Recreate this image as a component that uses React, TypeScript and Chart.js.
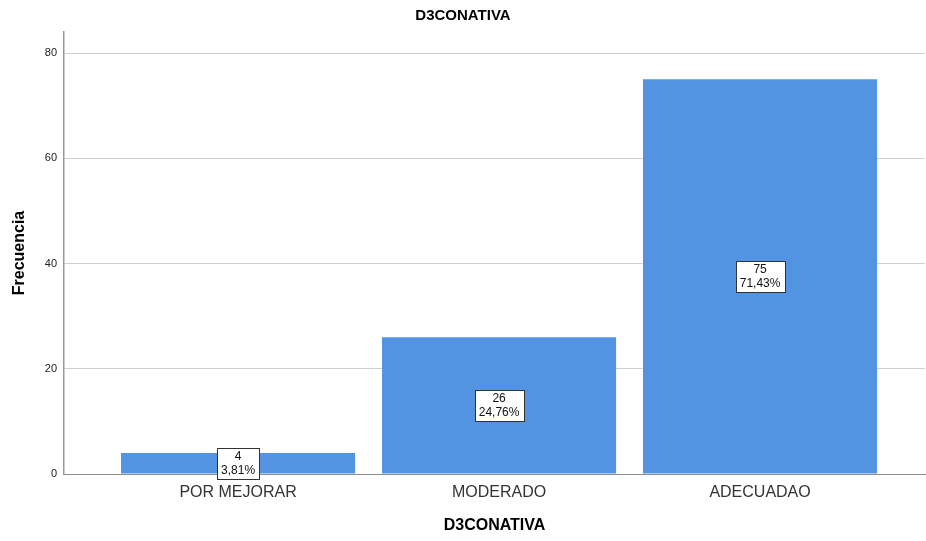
import React, { useEffect, useRef } from "react";
import { Chart, registerables } from "chart.js";

Chart.register(...registerables);

const chartTitle = "D3CONATIVA";
const xAxisTitle = "D3CONATIVA";
const yAxisTitle = "Frecuencia";
const categories = ["POR MEJORAR", "MODERADO", "ADECUADAO"];
const frequencies = [4, 26, 75];
const percentLabels = ["3,81%", "24,76%", "71,43%"];
const yTicks = [0, 20, 40, 60, 80];

const FONT = "'Liberation Sans', Arial, sans-serif";

const textPlugin = {
  id: "textPlugin",
  afterDraw(chart: any) {
    const ctx = chart.ctx;
    const area = chart.chartArea;
    ctx.save();
    ctx.fillStyle = "#000";
    ctx.textAlign = "center";
    ctx.textBaseline = "middle";
    ctx.font = `bold 15px ${FONT}`;
    ctx.fillText(chartTitle, chart.width / 2, 16);
    ctx.font = `bold 16px ${FONT}`;
    ctx.fillText(xAxisTitle, (area.left + area.right) / 2, 526);
    ctx.translate(20, (area.top + area.bottom) / 2);
    ctx.rotate(-Math.PI / 2);
    ctx.fillText(yAxisTitle, 0, 0);
    ctx.restore();
  },
  afterDatasetsDraw(chart: any) {
    const ctx = chart.ctx;
    const meta = chart.getDatasetMeta(0);
    ctx.save();
    ctx.font = `12px ${FONT}`;
    meta.data.forEach((bar: any, i: number) => {
      const cx = bar.x;
      const cy = (bar.y + bar.base) / 2;
      const l1 = String(frequencies[i]);
      const l2 = percentLabels[i];
      const w = Math.max(ctx.measureText(l1).width, ctx.measureText(l2).width) + 8;
      const h = 31;
      const x0 = Math.round(cx - w / 2) + 0.5;
      const y0 = Math.round(cy - h / 2) + 0.5;
      ctx.fillStyle = "#ffffff";
      ctx.fillRect(x0, y0, Math.round(w), h);
      ctx.strokeStyle = "#333333";
      ctx.lineWidth = 1;
      ctx.strokeRect(x0, y0, Math.round(w), h);
      ctx.fillStyle = "#111";
      ctx.textAlign = "center";
      ctx.textBaseline = "middle";
      ctx.fillText(l1, cx, cy - 7);
      ctx.fillText(l2, cx, cy + 7);
    });
    ctx.restore();
  },
};

export default function App() {
  const ref = useRef<HTMLCanvasElement>(null);
  useEffect(() => {
    if (!ref.current) return;
    const chart = new Chart(ref.current, {
      type: "bar",
      data: {
        datasets: [
          {
            data: frequencies.map((v, i) => ({ x: i, y: v })),
            backgroundColor: "#5294e2",
            borderWidth: 0,
            categoryPercentage: 1,
            barPercentage: 0.897,
          },
        ],
      },
      options: {
        responsive: false,
        animation: false,
        layout: { padding: { top: 32, right: 1, left: 0, bottom: 0 } },
        plugins: {
          legend: { display: false },
          tooltip: { enabled: false },
          title: { display: false },
        },
        scales: {
          x: {
            type: "linear",
            offset: false,
            min: -0.667,
            max: 2.632,
            afterBuildTicks: (s: any) => {
              s.ticks = categories.map((_, i) => ({ value: i }));
            },
            afterFit: (s: any) => {
              s.height = 67;
            },
            ticks: {
              callback: (v: any) => categories[v] ?? "",
              font: { family: FONT, size: 16 },
              color: "#333",
              padding: 9,
              maxRotation: 0,
              autoSkip: false,
            },
            grid: { display: false, drawTicks: false, offset: false },
            border: { display: true, color: "#8c8c8c", width: 1 },
          },
          y: {
            type: "linear",
            min: 0,
            max: 84,
            afterBuildTicks: (s: any) => {
              s.ticks = yTicks.map((v) => ({ value: v }));
            },
            afterFit: (s: any) => {
              s.width = 64;
            },
            ticks: {
              font: { family: FONT, size: 11 },
              color: "#222",
              padding: 7,
            },
            grid: { color: "#cfcfcf", lineWidth: 1, drawTicks: false },
            border: { display: true, color: "#999999", width: 1.5 },
          },
        },
      },
      plugins: [textPlugin],
    });
    return () => chart.destroy();
  }, []);
  return (
    <div style={{ position: "fixed", left: 0, top: 0, width: 926, height: 541, background: "#fff" }}>
      <canvas ref={ref} width={926} height={541} />
    </div>
  );
}
